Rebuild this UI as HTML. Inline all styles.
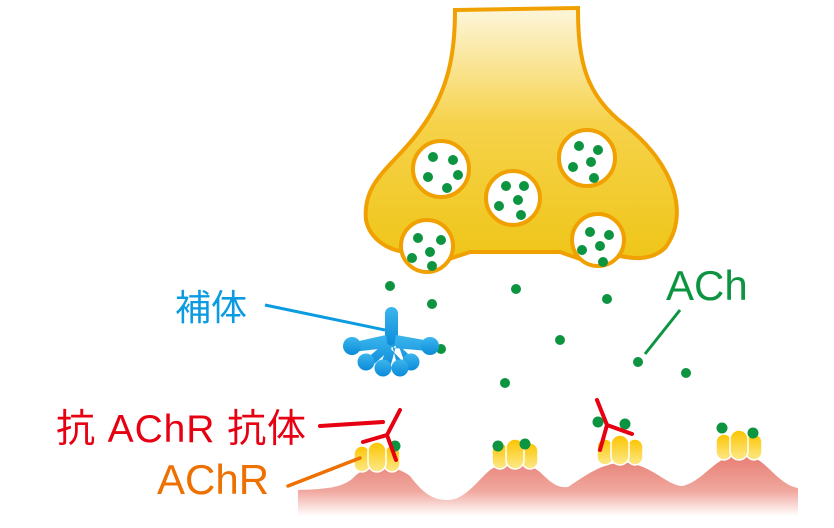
<!DOCTYPE html><html><head><meta charset="utf-8"><style>body{margin:0;background:#fff}svg{display:block}text{font-family:"Liberation Sans","Noto Sans CJK JP",sans-serif}</style></head><body>
<svg width="834" height="528" viewBox="0 0 834 528" xmlns="http://www.w3.org/2000/svg">
<defs>
<linearGradient id="t" x1="0" y1="0" x2="0" y2="1"><stop offset="0" stop-color="#fdf6dc"/><stop offset="0.45" stop-color="#f6d24a"/><stop offset="1" stop-color="#eec516"/></linearGradient>
<linearGradient id="m" x1="0" y1="0" x2="0" y2="1"><stop offset="0" stop-color="#e77c72"/><stop offset="0.6" stop-color="#f0a89f"/><stop offset="1" stop-color="#fff"/></linearGradient>
<linearGradient id="r" x1="0" y1="0" x2="0" y2="1"><stop offset="0" stop-color="#fbc400"/><stop offset="1" stop-color="#fde98a"/></linearGradient>
<linearGradient id="b" x1="0" y1="0" x2="0" y2="1"><stop offset="0" stop-color="#3cb6ee"/><stop offset="1" stop-color="#0b8ad8"/></linearGradient>
<g id="rc"><rect x="-23" y="-11" width="16" height="26" rx="8"/><rect x="7" y="-11" width="16" height="26" rx="8"/><rect x="-9" y="-15" width="18" height="30" rx="9"/></g>
</defs>
<path d="M455 10 L578 8 C578 60 585 95 625 125 C675 165 690 215 665 248 C650 262 630 258 620 256 L600 266 L560 252 L470 252 L440 262 L410 252 C390 252 370 240 366 220 C362 180 395 165 420 130 C450 90 455 50 455 10Z" fill="url(#t)" stroke="#f0a000" stroke-width="4"/>
<g fill="#fff" stroke="#f0a000" stroke-width="4">
<circle cx="441" cy="169" r="28"/><circle cx="513" cy="198" r="27"/><circle cx="587" cy="158" r="28"/><circle cx="427" cy="246" r="26"/><circle cx="598" cy="240" r="26"/></g>
<g fill="#0c9440">
<circle cx="433" cy="157" r="5"/><circle cx="453" cy="160" r="5"/><circle cx="428" cy="177" r="5"/><circle cx="458" cy="175" r="5"/><circle cx="447" cy="188" r="5"/>
<circle cx="506" cy="186" r="5"/><circle cx="524" cy="186" r="5"/><circle cx="518" cy="200" r="5"/><circle cx="499" cy="206" r="5"/><circle cx="521" cy="215" r="5"/>
<circle cx="579" cy="146" r="5"/><circle cx="598" cy="150" r="5"/><circle cx="573" cy="167" r="5"/><circle cx="591" cy="162" r="5"/><circle cx="594" cy="178" r="5"/>
<circle cx="418" cy="238" r="5"/><circle cx="441" cy="240" r="5"/><circle cx="430" cy="252" r="5"/><circle cx="412" cy="258" r="5"/><circle cx="432" cy="266" r="5"/>
<circle cx="590" cy="232" r="5"/><circle cx="609" cy="235" r="5"/><circle cx="600" cy="246" r="5"/><circle cx="582" cy="250" r="5"/><circle cx="603" cy="262" r="5"/>
<circle cx="390" cy="286" r="5"/><circle cx="432" cy="304" r="5"/><circle cx="516" cy="289" r="5"/><circle cx="607" cy="299" r="5"/><circle cx="560" cy="340" r="5"/><circle cx="441" cy="349" r="5"/><circle cx="638" cy="362" r="5"/><circle cx="686" cy="373" r="5"/><circle cx="505" cy="383" r="5"/>
</g>
<path d="M298 490 C330 489 345 487 355 476 C368 464 395 464 410 476 C425 496 435 500 448 500 C465 500 478 480 490 470 C505 460 525 460 540 472 C552 484 558 488 568 487 C585 476 605 460 630 463 C655 468 668 486 683 486 C705 480 715 456 740 454 C765 454 775 484 798 488 L798 516 L298 516Z" fill="url(#m)"/>
<g fill="url(#r)" stroke="#fff" stroke-width="1.5">
<use href="#rc" x="377" y="457"/><use href="#rc" x="515" y="454"/><use href="#rc" x="620" y="450"/><use href="#rc" x="739" y="445"/>
</g>
<g fill="#0c9440"><circle cx="395" cy="446" r="5.5"/><circle cx="498" cy="446" r="5.5"/><circle cx="525" cy="444" r="5.5"/><circle cx="598" cy="422" r="5.5"/><circle cx="625" cy="424" r="5.5"/><circle cx="722" cy="428" r="5.5"/><circle cx="753" cy="433" r="5.5"/></g>
<g stroke="#e60012" stroke-width="4" stroke-linecap="round" fill="none">
<path d="M400 410 L387 435 L396 460 M387 435 L363 442"/>
<path d="M597 400 L607 425 L600 450 M607 425 L632 434"/>
<path d="M320 426 L383 422"/>
</g>
<path d="M288 486 L360 458" stroke="#ee7000" stroke-width="3.5" stroke-linecap="round"/>
<path d="M265 305 L385 330" stroke="#0a9be0" stroke-width="3"/>
<g fill="url(#b)">
<rect x="385" y="307" width="13" height="40" rx="6.5"/>
<path d="M386 335 L350 343 L352 352 L388 348Z M396 335 L430 341 L428 351 L394 348Z M386 342 L365 360 L372 366 L392 348Z M396 342 L412 358 L405 364 L390 348Z M388 345 L380 366 L390 368 L396 346Z M392 345 L398 368 L406 366 L398 344Z"/>
<circle cx="352" cy="346" r="9"/><circle cx="430" cy="346" r="9"/><circle cx="366" cy="362" r="8.5"/><circle cx="411" cy="362" r="8.5"/><circle cx="383" cy="368" r="8.5"/><circle cx="400" cy="368" r="8.5"/>
</g>
<path d="M645 354 L680 310" stroke="#0c9440" stroke-width="3"/>
<text x="175" y="320" font-size="36" fill="#0a9be0">補体</text>
<text x="666" y="300" font-size="42" fill="#0c9440">ACh</text>
<text x="56" y="442" font-size="39" fill="#e60012" textLength="250">抗 AChR 抗体</text>
<text x="157" y="494" font-size="42" fill="#ee7000">AChR</text>
</svg></body></html>
